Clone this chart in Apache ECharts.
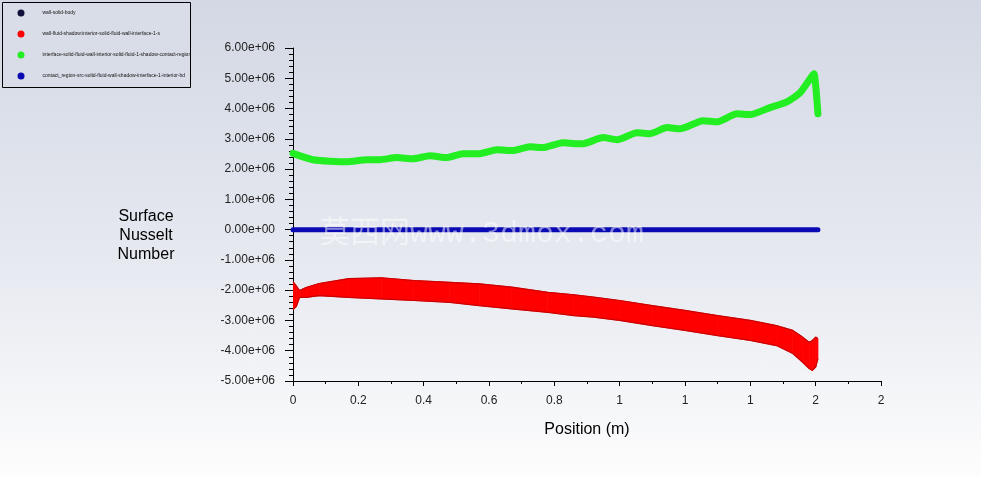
<!DOCTYPE html>
<html>
<head>
<meta charset="utf-8">
<script src="https://cdn.jsdelivr.net/npm/echarts@6/dist/echarts.min.js"></script>
<style>
html, body { margin: 0; padding: 0; }
#chart {
  width: 981px;
  height: 477px;
  background: linear-gradient(to bottom, #d3d8e4 0%, #e6e9f0 55%, #fdfdfd 100%);
}
</style>
</head>
<body>
<div id="chart"></div>
<script>
// legend names (zone names, barely legible in the original)
const seriesNames = [
  'wall-solid-body',
  'wall-fluid-shadow:interior-solid-fluid-wall-interface-1-s',
  'interface-solid-fluid-wall-interior-solid-fluid-1-shadow-contact-region',
  'contact_region-src-solid-fluid-wall-shadow-interface-1-interior-bd'
]
const seriesColors = ['#10103a', '#ff0000', '#22ee22', '#0a0ab4']

// green curve (values in 1e6)
const greenX = [0, 0.061, 0.165, 0.226, 0.266, 0.318, 0.367, 0.419, 0.471, 0.520, 0.572, 0.624, 0.673, 0.725, 0.765, 0.826, 0.869, 0.888, 0.949, 0.992, 1.053, 1.093, 1.145, 1.185, 1.255, 1.298, 1.359, 1.399, 1.460, 1.512, 1.552, 1.589, 1.595, 1.607]
const greenY = [2.52, 2.31, 2.24, 2.31, 2.31, 2.38, 2.34, 2.44, 2.38, 2.51, 2.51, 2.64, 2.61, 2.74, 2.71, 2.87, 2.84, 2.84, 3.04, 2.97, 3.20, 3.17, 3.37, 3.33, 3.60, 3.56, 3.83, 3.80, 4.03, 4.22, 4.52, 5.08, 5.15, 3.83]

// red band: upper and lower edge of the scatter cloud (1e6)
const redX = [0, 0.01, 0.02, 0.04, 0.08, 0.17, 0.27, 0.37, 0.48, 0.57, 0.67, 0.78, 0.86, 0.92, 1.0, 1.1, 1.2, 1.3, 1.4, 1.48, 1.53, 1.56, 1.58, 1.59, 1.6, 1.607]
const redHigh = [-1.72, -1.86, -2.01, -1.91, -1.78, -1.62, -1.59, -1.68, -1.74, -1.79, -1.90, -2.07, -2.15, -2.23, -2.34, -2.51, -2.67, -2.84, -3.00, -3.17, -3.33, -3.55, -3.72, -3.66, -3.55, -3.60]
const redLow = [-2.64, -2.54, -2.24, -2.24, -2.18, -2.24, -2.29, -2.34, -2.40, -2.51, -2.62, -2.73, -2.84, -2.89, -3.00, -3.17, -3.33, -3.50, -3.66, -3.83, -4.09, -4.38, -4.59, -4.65, -4.54, -4.26]

// blue line, sits on zero
const blueX = [0, 0.4, 0.8, 1.2, 1.607]
const blueY = [0, 0, 0, 0, 0]

const E6 = 1e6
const pairs = (xs, ys) => xs.map((x, i) => [x, ys[i] * E6])

let myChart = echarts.init(document.getElementById('chart'))

// red cloud: one quad per segment between upper and lower edge
function renderBand (params, api) {
  const i = params.dataIndex
  if (i >= redX.length - 1) return null
  const pts = [
    api.coord([redX[i], redHigh[i] * E6]),
    api.coord([redX[i + 1], redHigh[i + 1] * E6]),
    api.coord([redX[i + 1], redLow[i + 1] * E6]),
    api.coord([redX[i], redLow[i] * E6])
  ]
  return {
    type: 'polygon',
    shape: { points: pts },
    style: { fill: seriesColors[1], stroke: seriesColors[1], lineWidth: 0.8 }
  }
}

myChart.setOption({
  animation: false,
  backgroundColor: 'transparent',
  textStyle: { fontFamily: 'Liberation Sans, Arial, sans-serif' },
  grid: { left: 293, right: 100, top: 48, bottom: 96 },
  legend: {
    orient: 'vertical',
    left: 17.5,
    top: 9.5,
    padding: 0,
    itemWidth: 7,
    itemHeight: 7,
    itemGap: 14,
    icon: 'circle',
    selectedMode: false,
    data: seriesNames,
    textStyle: { fontSize: 5, color: '#111', padding: [0, 0, 0, 13] }
  },
  graphic: [
    {
      type: 'rect',
      z: -1,
      shape: { x: 2.5, y: 2.5, width: 188, height: 85 },
      style: { fill: '#d9dde7', stroke: '#000', lineWidth: 1 }
    },
    {
      type: 'text',
      x: 146,
      y: 207,
      style: {
        text: 'Surface\nNusselt\nNumber',
        textAlign: 'center',
        fontSize: 16,
        lineHeight: 19,
        fill: '#000',
        fontFamily: 'Liberation Sans, Arial, sans-serif'
      }
    },
    {
      type: 'text',
      left: 320,
      top: 219,
      z: 100,
      silent: true,
      style: {
        text: '莫西网www.3dmox.com',
        fontSize: 30,
        fill: 'rgba(255,255,255,0.5)',
        fontFamily: 'Liberation Mono, Noto Sans CJK SC, serif'
      }
    }
  ],
  xAxis: {
    type: 'value',
    min: 0,
    max: 1.8,
    interval: 0.2,
    name: 'Position (m)',
    nameLocation: 'middle',
    nameGap: 41,
    nameTextStyle: { fontSize: 16, color: '#000' },
    axisLine: { onZero: false, lineStyle: { color: '#000', width: 1 } },
    axisTick: { length: 5, lineStyle: { color: '#000' } },
    minorTick: { show: true, splitNumber: 2, length: 3, lineStyle: { color: '#000' } },
    splitLine: { show: false },
    axisLabel: {
      margin: 14,
      fontSize: 12,
      color: '#222',
      formatter: v => v === 0 ? '0' : (v < 0.95 ? v.toFixed(1) : String(Math.round(v)))
    }
  },
  yAxis: {
    type: 'value',
    min: -5 * E6,
    max: 6 * E6,
    interval: E6,
    axisLine: { show: true, lineStyle: { color: '#000', width: 1 } },
    axisTick: { show: true, length: 8, lineStyle: { color: '#000' } },
    minorTick: { show: true, splitNumber: 5, length: 4, lineStyle: { color: '#000' } },
    splitLine: { show: false },
    axisLabel: {
      margin: 18,
      fontSize: 12,
      color: '#222',
      formatter: v => v.toExponential(2).replace(/e([+-])(\d)$/, 'e$10$2')
    }
  },
  series: [
    {
      name: seriesNames[0],
      type: 'line',
      data: [],
      itemStyle: { color: seriesColors[0] }
    },
    {
      name: seriesNames[1],
      type: 'custom',
      renderItem: renderBand,
      data: redX.map((x, i) => [x, redHigh[i] * E6, redLow[i] * E6]),
      encode: { x: 0, y: [1, 2] },
      itemStyle: { color: seriesColors[1] },
      clip: true,
      z: 3
    },
    {
      name: 'red-high-edge',
      type: 'line',
      symbol: 'none',
      data: pairs(redX, redHigh),
      lineStyle: { color: '#c80000', width: 1.2 },
      z: 3
    },
    {
      name: 'red-low-edge',
      type: 'line',
      symbol: 'none',
      data: pairs(redX, redLow),
      lineStyle: { color: '#c80000', width: 1.2 },
      z: 3
    },
    {
      name: seriesNames[2],
      type: 'line',
      symbol: 'none',
      smooth: 0.2,
      data: pairs(greenX, greenY),
      lineStyle: { color: seriesColors[2], width: 7, cap: 'round', join: 'round' },
      itemStyle: { color: seriesColors[2] },
      z: 4
    },
    {
      name: seriesNames[3],
      type: 'line',
      symbol: 'none',
      data: pairs(blueX, blueY),
      lineStyle: { color: seriesColors[3], width: 5, cap: 'round' },
      itemStyle: { color: seriesColors[3] },
      z: 5
    }
  ]
})
</script>
</body>
</html>
